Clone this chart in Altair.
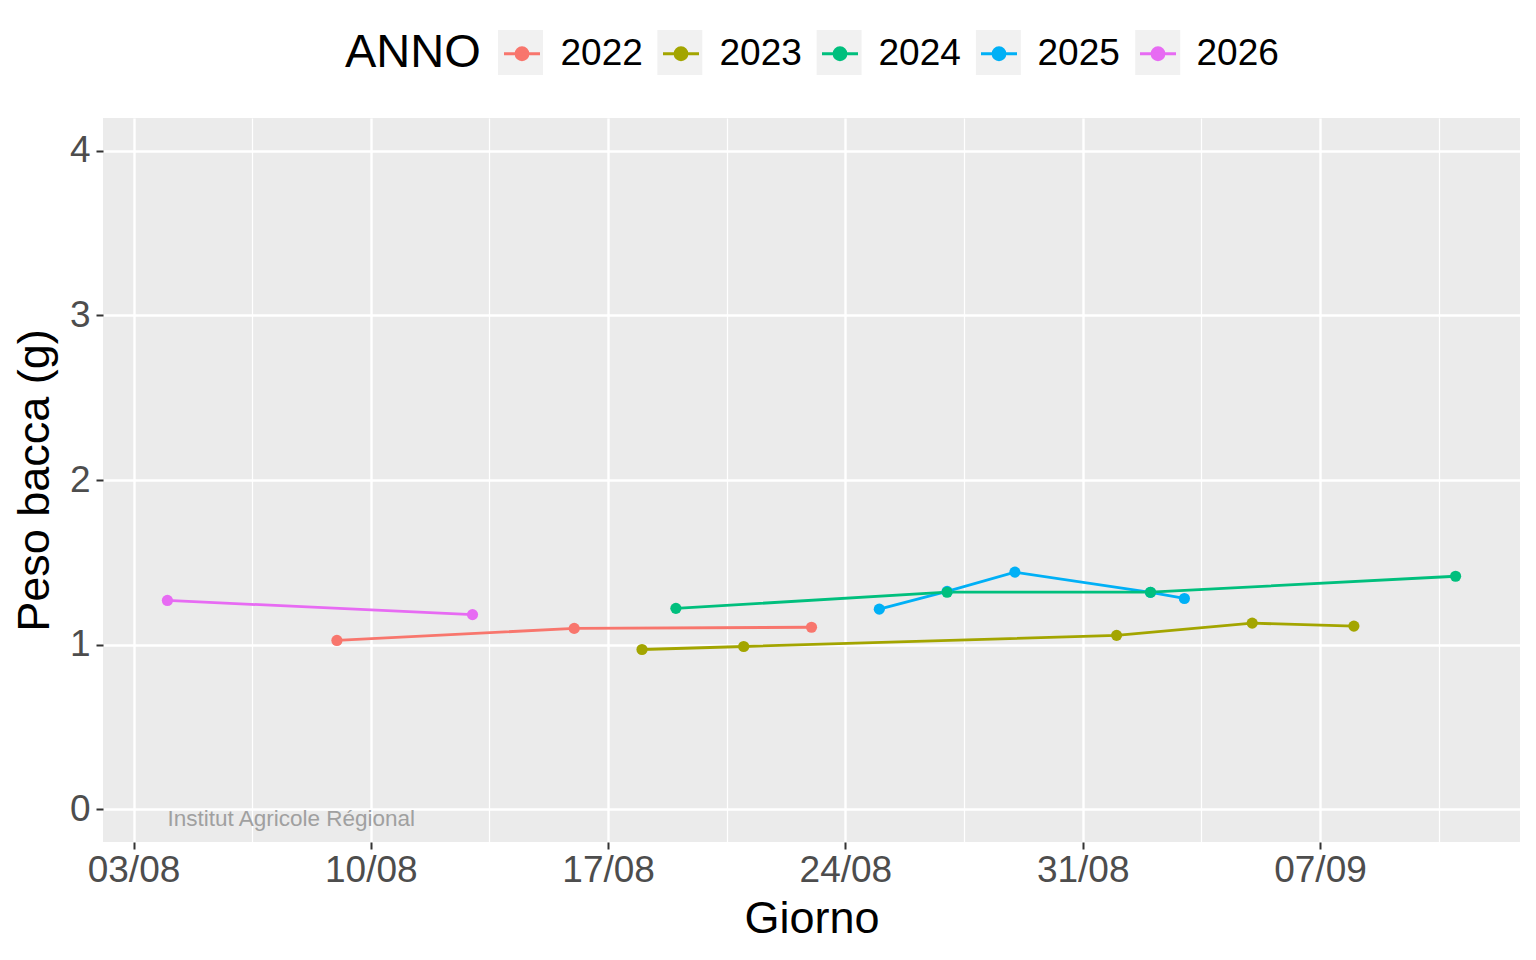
import altair as alt
import pandas as pd
from datetime import datetime, timedelta

# ---- data ----
years = ["2022", "2023", "2024", "2025", "2026"]
days_2022 = ["09/08", "16/08", "23/08"]
peso_2022 = [1.025, 1.098, 1.105]
days_2023 = ["18/08", "21/08", "01/09", "05/09", "08/09"]
peso_2023 = [0.97, 0.988, 1.056, 1.13, 1.112]
days_2024 = ["19/08", "27/08", "02/09", "11/09"]
peso_2024 = [1.22, 1.318, 1.318, 1.415]
days_2025 = ["25/08", "27/08", "29/08", "02/09", "03/09"]
peso_2025 = [1.215, 1.323, 1.44, 1.317, 1.28]
days_2026 = ["04/08", "13/08"]
peso_2026 = [1.268, 1.182]

colors = ["#F8766D", "#A3A500", "#00BF7D", "#00B0F6", "#E76BF3"]
REF_YEAR = 2026

series = {
    "2022": (days_2022, peso_2022),
    "2023": (days_2023, peso_2023),
    "2024": (days_2024, peso_2024),
    "2025": (days_2025, peso_2025),
    "2026": (days_2026, peso_2026),
}

def to_iso(dm):
    d, m = dm.split("/")
    return f"{REF_YEAR}-{m}-{d}"

rows = []
# draw order of points: 2025 before 2024 so 2024 points sit on top
for yr in ["2022", "2023", "2025", "2024", "2026"]:
    dd, vv = series[yr]
    for d, v in zip(dd, vv):
        rows.append({"Giorno": to_iso(d), "Peso": v, "ANNO": yr, "KEY": "k" + yr})
df = pd.DataFrame(rows)
key_domain = ["k" + y for y in years]

# ---- scales / axes ----
FONT = "Liberation Sans"
x_domain = [alt.DateTime(year=REF_YEAR, month=8, date=2, hours=2, minutes=24, utc=True),
            alt.DateTime(year=REF_YEAR, month=9, date=12, hours=21, minutes=36, utc=True)]
start = datetime(REF_YEAR, 8, 3)
x_ticks = []
for k in range(12):
    t = start + timedelta(hours=84 * k)
    x_ticks.append(alt.DateTime(year=t.year, month=t.month, date=t.day, hours=t.hour, utc=True))
y_ticks = [0, 0.5, 1, 1.5, 2, 2.5, 3, 3.5, 4]

x_major = "utchours(datum.value) == 0"
y_major = "datum.value % 1 == 0"

x_enc = alt.X(
    "Giorno:T",
    scale=alt.Scale(type="utc", domain=x_domain, nice=False),
    axis=alt.Axis(
        values=x_ticks, format="%d/%m",
        labelExpr=f"{x_major} ? datum.label : ''",
        labelOverlap=False, labelFlush=False,
        grid=True, gridColor="white",
        gridWidth={"condition": {"test": x_major, "value": 2.4}, "value": 1.2},
        tickOpacity={"condition": {"test": x_major, "value": 1}, "value": 0},
        tickColor="#333333", tickSize=7, tickWidth=2,
        domain=False,
        labelFont=FONT, labelFontSize=37, labelColor="#4D4D4D", labelPadding=3,
        title="Giorno", titleFont=FONT, titleFontSize=45, titleFontWeight="normal",
        titleColor="black", titlePadding=8,
    ),
)
y_enc = alt.Y(
    "Peso:Q",
    scale=alt.Scale(domain=[-0.2, 4.2], nice=False, zero=False),
    axis=alt.Axis(
        values=y_ticks, format="d",
        labelExpr=f"{y_major} ? datum.label : ''",
        labelOverlap=False, labelFlush=False,
        grid=True, gridColor="white",
        gridWidth={"condition": {"test": y_major, "value": 2.4}, "value": 1.2},
        tickOpacity={"condition": {"test": y_major, "value": 1}, "value": 0},
        tickColor="#333333", tickSize=7, tickWidth=2,
        domain=False,
        labelFont=FONT, labelFontSize=37, labelColor="#4D4D4D", labelPadding=6,
        title="Peso bacca (g)", titleFont=FONT, titleFontSize=45, titleFontWeight="normal",
        titleColor="black", titlePadding=12,
    ),
)

key_path = "M-1,0L1,0M-0.333,0A0.333,0.333 0 1,0 0.333,0A0.333,0.333 0 1,0 -0.333,0Z"
bg_path = "M-1,-1L1,-1L1,1L-1,1Z"

color_enc = alt.Color(
    "ANNO:N",
    scale=alt.Scale(domain=years, range=colors),
    legend=alt.Legend(
        title="ANNO", titleColor="black", labelColor="black",
        orient="none", legendX=242, legendY=-84, direction="horizontal",
        titleOrient="left", titleFont=FONT, titleFontSize=47, titleFontWeight="normal",
        titlePadding=21.5, labelFont=FONT, labelFontSize=37, labelOffset=19,
        columnPadding=13, symbolSize=1296,
        symbolType=key_path, symbolStrokeWidth=2.8,
    ),
)

base = alt.Chart(df)

# grey key backgrounds (ggplot legend.key), a second label-less legend underneath
bg_layer = base.mark_point(filled=True, size=0, strokeWidth=0, color="#EBEBEB").encode(
    x=x_enc, y=y_enc,
    shape=alt.Shape(
        "KEY:N",
        scale=alt.Scale(domain=key_domain, range=[bg_path] * 5),
        legend=alt.Legend(
            title=None, labelExpr="''", labelOffset=0,
            orient="none", legendX=395, legendY=-88, direction="horizontal",
            columnPadding=114.3, symbolSize=2025,
            symbolFillColor="#EBEBEB", symbolStrokeWidth=0,
        ),
    ),
)

lines = base.mark_line(strokeWidth=2.8).encode(x=x_enc, y=y_enc, color=color_enc)
points = base.mark_point(filled=True, size=125, opacity=1).encode(x=x_enc, y=y_enc, color=color_enc)

wm = alt.Chart(pd.DataFrame({"Giorno": [to_iso("04/08")], "Peso": [-0.06],
                             "txt": ["Institut Agricole Régional"]})).mark_text(
    align="left", baseline="middle", font=FONT, fontSize=22.5, color="#A0A0A0"
).encode(x=alt.X("Giorno:T"), y=alt.Y("Peso:Q"), text="txt:N")

chart = alt.layer(bg_layer, lines, points, wm).properties(
    width=1417, height=724,
    autosize=alt.AutoSizeParams(type="none"),
    padding={"left": 95, "top": 110, "right": 8, "bottom": 110},
    background="white",
).configure_view(fill="#EBEBEB", stroke=None)

chart.save("out.html", embed_options={"renderer": "svg", "actions": False})
